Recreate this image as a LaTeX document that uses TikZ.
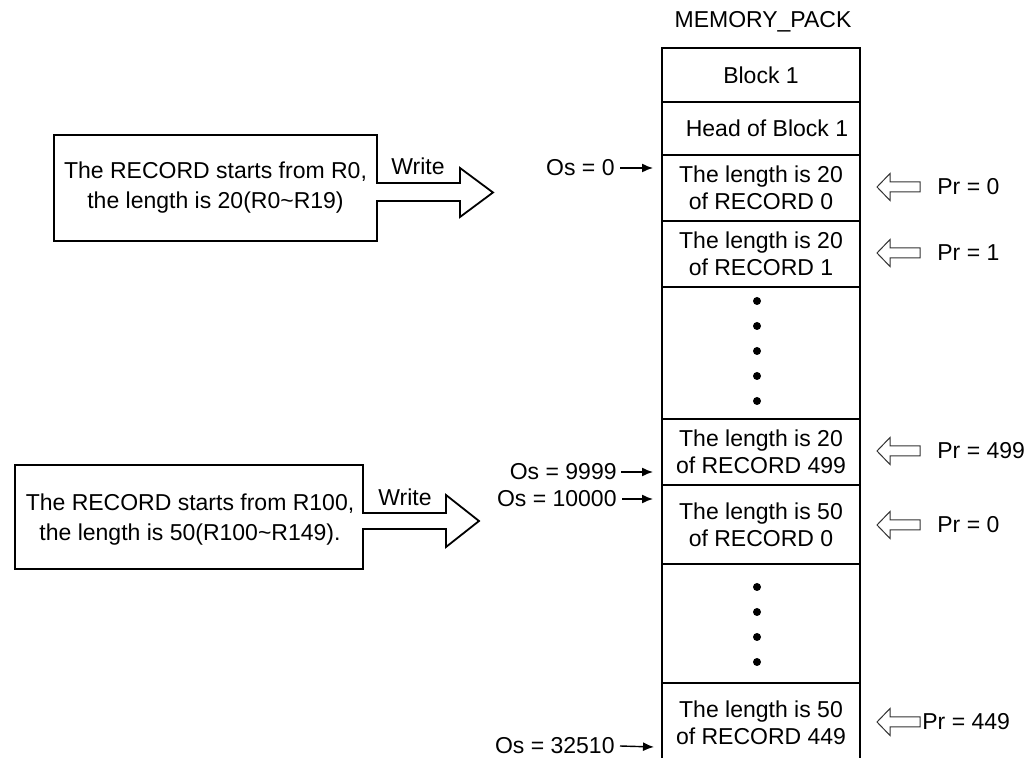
\documentclass[tikz,border=0pt]{standalone}
\usepackage{fontspec}
\setmainfont{Liberation Sans}
\usetikzlibrary{positioning, arrows.meta}

\begin{document}
\begin{tikzpicture}[
    x=0.5pt, y=-0.5pt,
    every node/.style={font=\fontsize{11.5}{14}\selectfont},
    cell/.style={rectangle, draw, line width=0.9pt, minimum width=99pt, outer sep=0pt, inner sep=0pt, align=center, font=\fontsize{11.5}{13.5}\selectfont},
    boxtext/.style={align=center, inner sep=0pt, font=\fontsize{11.5}{15}\selectfont},
    callout/.style={draw, line width=0.9pt},
    lbl/.style={inner sep=0pt},
    osarrow/.style={-{Latex[length=5.5pt,width=4.5pt]}, line width=0.7pt},
    prarrow/.style={draw=black!80, line width=0.5pt, fill=white}
]
    \useasboundingbox (0,0) rectangle (1029,758);

    % Memory column
    \node (mempack) at (763,22) {MEMORY\_PACK};
    \node[cell, minimum height=27pt] (block) at (761,75) {Block 1};
    \node[cell, minimum height=26.5pt, below=0pt of block] (head) {\hspace*{6pt}Head of Block 1};
    \node[cell, minimum height=33pt, below=0pt of head] (rec0) {The length is 20\\of RECORD 0};
    \node[cell, minimum height=33pt, below=0pt of rec0] (rec1) {The length is 20\\of RECORD 1};
    \node[cell, minimum height=66pt, below=0pt of rec1] (dotsA) {};
    \node[cell, minimum height=33pt, below=0pt of dotsA] (rec499) {The length is 20\\of RECORD 499};
    \node[cell, minimum height=39.5pt, below=0pt of rec499] (recb0) {The length is 50\\of RECORD 0};
    \node[cell, minimum height=59.5pt, below=0pt of recb0] (dotsB) {};
    \node[cell, minimum height=40pt, below=0pt of dotsB] (recb449) {The length is 50\\of RECORD 449};

    % Dots
    \foreach \k in {-2,...,2}
        \fill ([xshift=-2pt]dotsA.center) ++(0,\k*25-2) circle (4);
    \foreach \k in {-1.5,-0.5,0.5,1.5}
        \fill ([xshift=-2pt]dotsB.center) ++(0,\k*25+1) circle (4);

    % Records written
    \node[boxtext] (rec20) at (215.5,188) {The RECORD starts from R0,\\the length is 20(R0\textasciitilde R19)};
    \draw[callout] (54,135) -- (377,135) -- (377,183) -- (460,183) -- (460,168) -- (493,192.5)
        -- (460,217) -- (460,201) -- (377,201) -- (377,241) -- (54,241) -- cycle;
    \node[lbl] (write1) at (418,166) {Write};

    \node[boxtext] (rec50) at (190,520) {The RECORD starts from R100,\\the length is 50(R100\textasciitilde R149).};
    \draw[callout] (15,465) -- (363,465) -- (363,513) -- (446,513) -- (446,495) -- (479,521)
        -- (446,547) -- (446,529) -- (363,529) -- (363,569) -- (15,569) -- cycle;
    \node[lbl] (write2) at (405,497) {Write};

    % Offsets
    \node[lbl, anchor=east] (os0) at (615,168) {Os = 0};
    \node[lbl, anchor=east] (os9999) at (617,472) {Os = 9999};
    \node[lbl, anchor=east] (os10000) at (617,499) {Os = 10000};
    \node[lbl, anchor=east] (os32510) at (615,746) {Os = 32510};
    \coordinate (os0end) at (653,168);
    \coordinate (os9999end) at (653,472);
    \coordinate (os10000end) at (653,499);
    \coordinate (os32510end) at (654,747);
    \draw[osarrow] ([xshift=2.5pt]os0.east) -- (os0end);
    \draw[osarrow] ([xshift=2pt]os9999.east) -- (os9999end);
    \draw[osarrow] ([xshift=2.5pt]os10000.east) -- (os10000end);
    \draw[osarrow] ([xshift=2.5pt]os32510.east) -- (os32510end);

    % Pointers
    \foreach \y in {187,253,451,525,722}
        \draw[prarrow, shift={(877,\y)}] (0,0) -- (13,-13.5) -- (13,-5) -- (43,-5)
            -- (43,5) -- (13,5) -- (13,13.5) -- cycle;
    \node[lbl, anchor=west] (pr0) at (937,187) {Pr = 0};
    \node[lbl, anchor=west] (pr1) at (937,253) {Pr = 1};
    \node[lbl, anchor=west] (pr499) at (937,451) {Pr = 499};
    \node[lbl, anchor=west] (prb0) at (937,525) {Pr = 0};
    \node[lbl, anchor=west] (prb449) at (922,722) {Pr = 449};

\end{tikzpicture}
\end{document}
